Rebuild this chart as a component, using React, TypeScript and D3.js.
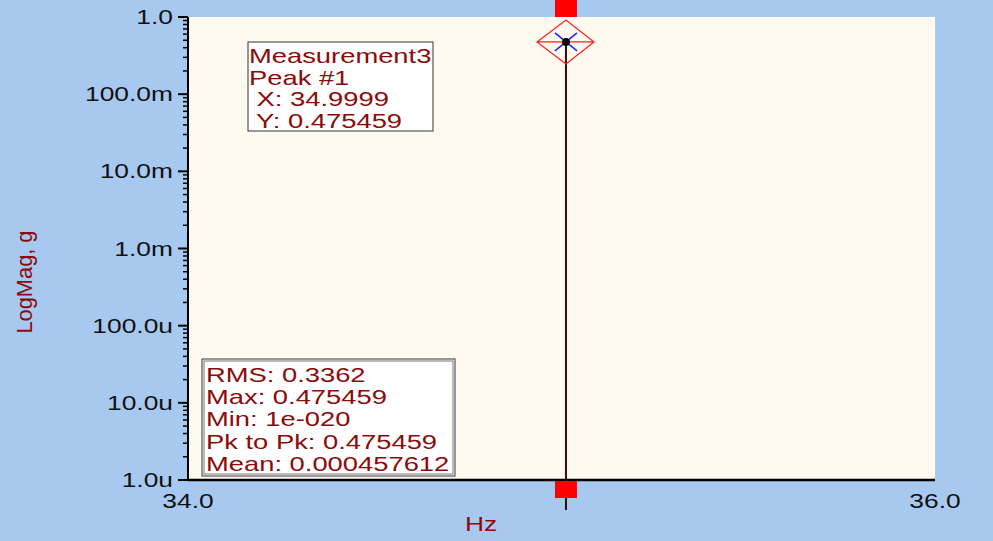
import * as d3 from "d3";

const yTicks = [1e-6, 1e-5, 1e-4, 1e-3, 1e-2, 1e-1, 1];
const yTickLabels = ["1.0u", "10.0u", "100.0u", "1.0m", "10.0m", "100.0m", "1.0"];
const xTicks = [34, 36];
const xTickLabels = ["34.0", "36.0"];
const peakFreqs = [35.012];
const peakMags = [0.475459];
const peakLines = ["Measurement3", "Peak #1", " X: 34.9999", " Y: 0.475459"];
const statLines = [
  "RMS: 0.3362",
  "Max: 0.475459",
  "Min: 1e-020",
  "Pk to Pk: 0.475459",
  "Mean: 0.000457612",
];

const W = 993;
const H = 541;
const left = 188;
const right = 935;
const top = 17;
const bottom = 480;
const dark = "#8b0a0a";
const font = "'Liberation Sans', Arial, sans-serif";

export default function App() {
  const x = d3.scaleLinear().domain([34, 36]).range([left, right]);
  const y = d3.scaleLog().domain([1e-6, 1]).range([bottom, top]);

  // minor ticks 2..9 in every decade
  const minor: number[] = [];
  for (let e = -6; e < 0; e++) {
    for (let k = 2; k <= 9; k++) minor.push(k * Math.pow(10, e));
  }

  const txt = (
    s: string,
    tx: number,
    ty: number,
    anchor: string,
    fill: string,
    key?: string | number,
    size = 20,
    sx = 1.32
  ) => (
    <text
      key={key}
      transform={`translate(${tx},${ty}) scale(${sx},1)`}
      textAnchor={anchor}
      fontSize={size}
      fontFamily={font}
      fill={fill}
      style={{ whiteSpace: "pre" }}
    >
      {s}
    </text>
  );

  return (
    <svg
      width={W}
      height={H}
      style={{ position: "absolute", left: 0, top: 0, background: "#a7c9ef" }}
    >
      <rect x={left} y={top} width={right - left} height={bottom - top} fill="#fffaf0" />

      {/* y axis */}
      <line x1={left} x2={left} y1={top} y2={bottom} stroke="#000" strokeWidth={2} />
      {minor.map((v, i) => (
        <line key={i} x1={left - 5} x2={left} y1={y(v)} y2={y(v)} stroke="#000" strokeWidth={1.5} />
      ))}
      {yTicks.map((v, i) => (
        <g key={v}>
          <line x1={left - 10} x2={left} y1={y(v)} y2={y(v)} stroke="#000" strokeWidth={2} />
          {txt(yTickLabels[i], left - 15, y(v) + 7, "end", "#111")}
        </g>
      ))}

      {/* x axis */}
      <line x1={left} x2={right} y1={bottom} y2={bottom} stroke="#000" strokeWidth={2.5} />
      {xTicks.map((v, i) => txt(xTickLabels[i], x(v), 508, "middle", "#111", v))}

      {txt("Hz", 481, 531, "middle", dark)}
      <text
        transform="translate(32,282) rotate(-90)"
        textAnchor="middle"
        fontSize={22}
        fontFamily={font}
        fill={dark}
        textLength={103}
        lengthAdjust="spacingAndGlyphs"
      >
        LogMag, g
      </text>

      {/* peak stem + markers */}
      {peakFreqs.map((f, i) => {
        const px = x(f);
        const py = y(peakMags[i]);
        return (
          <g key={i}>
            <line x1={px} x2={px} y1={py} y2={510} stroke="#3a0a10" strokeWidth={2} />
            <rect x={px - 11} y={0} width={22} height={top} fill="#ff0000" />
            <rect x={px - 11} y={bottom + 1} width={22} height={17} fill="#ff0000" />
            <path
              d={`M${px - 29},${py} L${px},${py - 22} L${px + 28},${py} L${px},${py + 22} Z M${px - 29},${py} L${px + 28},${py}`}
              fill="none"
              stroke="#ff2020"
              strokeWidth={1.2}
            />
            <path
              d={`M${px - 11},${py - 9} L${px + 11},${py + 9} M${px - 11},${py + 9} L${px + 11},${py - 9}`}
              stroke="#2020ff"
              strokeWidth={1.5}
            />
            <circle cx={px} cy={py} r={4} fill="#000" />
          </g>
        );
      })}

      {/* peak annotation */}
      <rect x={248} y={42} width={185} height={89} fill="#fff" stroke="#333" strokeWidth={1} />
      {peakLines.map((s, i) => txt(s, 249, 63 + i * 21.7, "start", dark, s, 20.5, 1.335))}

      {/* stats box */}
      <rect x={202} y={359} width={253} height={117} fill="#fff" stroke="#333" strokeWidth={1} />
      <rect x={204} y={361} width={249} height={113} fill="none" stroke="#777" strokeWidth={1} />
      {statLines.map((s, i) => txt(s, 206, 382 + i * 22.2, "start", dark, s, 20.5, 1.335))}
    </svg>
  );
}
